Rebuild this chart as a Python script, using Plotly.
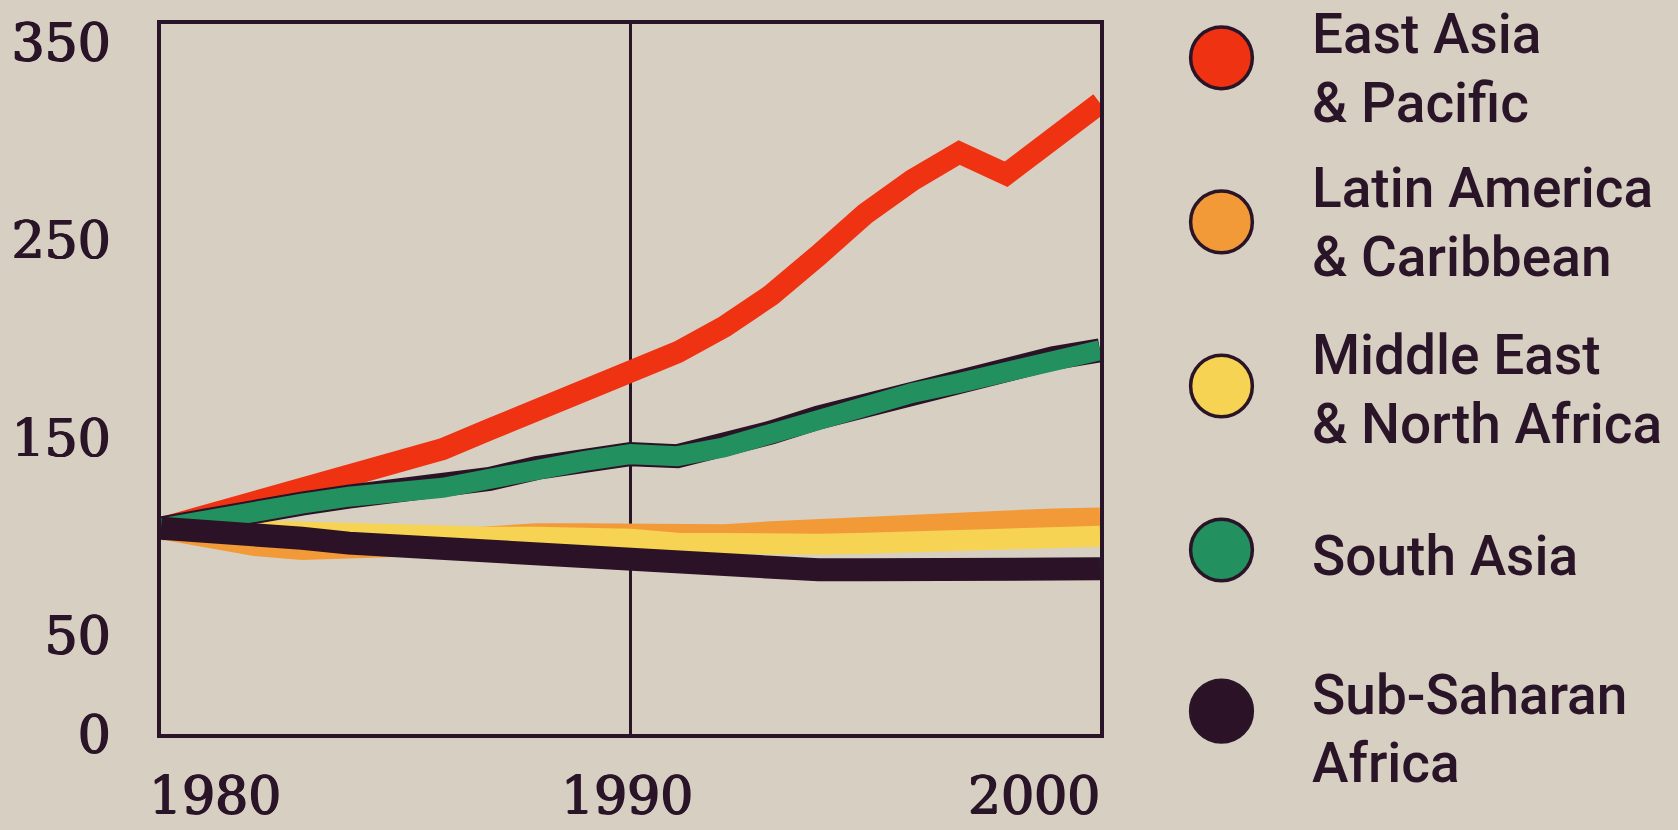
import plotly.graph_objects as go

# ---------------- data ----------------
years = list(range(1980, 2001))
east_asia = [104, 111, 118, 124, 131, 137, 144, 154, 164, 172, 182, 193, 206, 222, 242, 263, 280, 294, 283, 302, 319]
latin_america = [104, 99, 95.5, 93.5, 93.5, 95, 98, 100.5, 101, 101, 100, 99.5, 100.5, 102, 103.5, 104.5, 105.5, 106.5, 107.5, 108.5, 109]
middle_east = [104, 103, 102, 101.5, 101, 100.5, 100, 99.5, 99.5, 99.5, 98.5, 96.5, 95.5, 96, 96, 96.5, 97, 97.5, 98.5, 99.5, 100]
south_asia = [104, 109, 113, 116.5, 120, 122, 124.5, 129, 134.5, 138, 141.5, 140.5, 145, 152.5, 160, 166.5, 172.5, 177.5, 183, 190, 194]
sub_saharan = [104, 103, 100.5, 99, 96.5, 95, 93.5, 92, 91.5, 91, 90, 87.5, 85, 83.5, 83, 83, 83, 83, 83, 83.5, 83.5]

y_tick_values = [0, 50, 150, 250, 350]
x_tick_years = [1980, 1990, 2000]
legend_labels = [
    ["East Asia", "& Pacific"],
    ["Latin America", "& Caribbean"],
    ["Middle East", "& North Africa"],
    ["South Asia"],
    ["Sub-Saharan", "Africa"],
]

# ---------------- styles ----------------
W, H = 1678, 830
L, R, T, B = 157, 1100, 20, 734
BG = "#d8cfc3"
INK = "#2a1428"
RED = "#ef3212"
ORANGE = "#f39a38"
YELLOW = "#f6d352"
GREEN = "#23905f"
DARK = "#2b1226"
NUM_FONT = dict(family="DejaVu Serif", size=52, color=INK,
                shadow="0.8px 0 0 #2a1428, -0.8px 0 0 #2a1428, 0 0.6px 0 #2a1428")
TXT_FONT = dict(family="Roboto", size=55, color=INK, weight=500)


def px_x(px):
    return (px - L) / (R - L)


def px_y(py):
    return (B - py) / (B - T)


fig = go.Figure()

LW = 22
fig.add_trace(go.Scatter(x=years, y=latin_america, mode="lines",
                         line=dict(color=ORANGE, width=LW)))
fig.add_trace(go.Scatter(x=years, y=middle_east, mode="lines",
                         line=dict(color=YELLOW, width=LW - 1)))
fig.add_trace(go.Scatter(x=years, y=east_asia, mode="lines",
                         line=dict(color=RED, width=LW)))
fig.add_trace(go.Scatter(x=years, y=south_asia, mode="lines",
                         line=dict(color=DARK, width=LW + 2)))
fig.add_trace(go.Scatter(x=years, y=south_asia, mode="lines",
                         line=dict(color=GREEN, width=LW - 2)))
fig.add_trace(go.Scatter(x=years, y=sub_saharan, mode="lines",
                         line=dict(color=DARK, width=LW + 1)))

# 1990 divider
fig.add_shape(type="line", xref="x", yref="paper", x0=1990, x1=1990, y0=0, y1=1,
              line=dict(color=INK, width=3), layer="below")

# x labels
x_shift = {1980: ("left", -14), 1990: ("center", -4), 2000: ("right", 2)}
for yr in x_tick_years:
    anc, sh = x_shift[yr]
    fig.add_annotation(x=yr, xref="x", y=px_y(795), yref="paper", text=str(yr),
                       showarrow=False, xanchor=anc, yanchor="middle", xshift=sh,
                       font=NUM_FONT)

# legend (circles + text)
circle_y = [54, 219, 384, 549, 711]
text_y = [[30, 99], [185, 254], [353, 422], [555], [695, 763]]
colors = [RED, ORANGE, YELLOW, GREEN, DARK]
cx, rad = 1222, 31
for lines, cy, ty, col in zip(legend_labels, circle_y, text_y, colors):
    fig.add_shape(type="circle", xref="paper", yref="paper",
                  x0=px_x(cx - rad), x1=px_x(cx + rad),
                  y0=px_y(cy + rad), y1=px_y(cy - rad),
                  fillcolor=col, line=dict(color=INK, width=3.5))
    for txt, yy in zip(lines, ty):
        fig.add_annotation(x=px_x(1311), xref="paper", y=px_y(yy), yref="paper",
                           text=txt, showarrow=False, xanchor="left", yanchor="middle",
                           font=TXT_FONT)

fig.update_layout(
    width=W, height=H,
    margin=dict(l=L, r=W - R, t=T, b=H - B, pad=0),
    paper_bgcolor=BG, plot_bgcolor=BG,
    showlegend=False,
    xaxis=dict(range=[1980, 2000], showgrid=False, zeroline=False, showticklabels=False,
               ticks="", showline=True, mirror=True, linecolor=INK, linewidth=3.5),
    yaxis=dict(range=[0, 359], showgrid=False, zeroline=False,
               tickvals=y_tick_values, ticktext=[str(v) for v in y_tick_values],
               ticks="", ticklabelstandoff=36, tickfont=NUM_FONT,
               showline=True, mirror=True, linecolor=INK, linewidth=3.5),
)

fig.write_html("out.html", config={"displayModeBar": False},
               post_script="document.body.style.margin='0';document.body.style.overflow='hidden';")
